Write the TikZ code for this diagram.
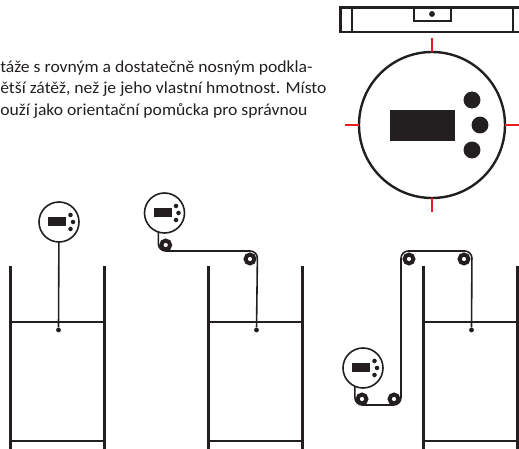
\documentclass[tikz,border=0pt]{standalone}
\usepackage{fontspec}
\setmainfont[FakeStretch=1.05]{Carlito}
\definecolor{ink}{HTML}{231F20}
\definecolor{tick}{HTML}{ED1C24}
\tikzset{
  wall/.style={line width=2.5pt,ink},
  floor/.style={line width=1.7pt,ink},
  bar/.style={line width=1.7pt,ink},
  wire/.style={line width=1.2pt,ink,rounded corners=5.5pt},
  dial/.style={circle,draw=ink,line width=1.2pt,fill=white,minimum size=30pt,inner sep=0pt,outer sep=0pt},
  knob/.style={circle,fill=ink,inner sep=0pt,minimum size=#1},
  screen/.style={fill=ink,inner sep=0pt,minimum width=#1,minimum height=0.48*#1},
  wheel/.style={circle,draw=ink,line width=3pt,fill=white,minimum size=6.6pt,inner sep=0pt},
  redtick/.style={line width=1.8pt,tick},
  txt/.style={anchor=base west,inner sep=0pt,text=ink,font=\fontsize{12.6}{15}\selectfont}
}
\begin{document}
\begin{tikzpicture}[x=0.75pt,y=-0.75pt]
  \useasboundingbox (0,0) rectangle (519,449);
  \clip (0,0) rectangle (519,449);
  % text
  \node [txt] (lineA) at (0,72.5) {táže s rovným a dostatečně nosným podkla-};
  \node [txt] (lineB) at (0,94) {ětší zátěž, než je jeho vlastní hmotnost. Místo};
  \node [txt] (lineC) at (0,115.5) {ouží jako orientační pomůcka pro správnou};
  % level
  \draw [bar] (340.5,7.5) rectangle (530,32);
  \draw [bar] (352,7.5) -- (352,32);
  \draw [bar] (513,7.5) -- (513,32);
  \draw [bar] (414,7.5) -- (414,21) -- (451,21) -- (451,7.5);
  \node [knob=4.4pt] (bubble) at (432,14) {};
  % big dial
  \node [dial,line width=1.8pt,minimum size=109.5pt] (bigdial) at (432,125) {};
  \node [screen=48.75pt,minimum height=23.25pt] (bigscreen) at (422.5,125.5) {};
  \node [knob=12.7pt] (bigknobA) at (472,100) {};
  \node [knob=12.7pt] (bigknobB) at (480,125) {};
  \node [knob=12.7pt] (bigknobC) at (472,150) {};
  \draw [redtick] (432,38) -- (bigdial.north);
  \draw [redtick] (bigdial.south) -- (432,212);
  \draw [redtick] (345,125) -- (bigdial.west);
  \draw [redtick] (bigdial.east) -- (519,125);
  % tanks
  \foreach \nm/\xa/\xb in {A/10.5/104.5,B/208.5/302.5,C/423.5/517.5}{
    \draw [wall] (\xa,266) -- (\xa,449);
    \draw [wall] (\xb,266) -- (\xb,449);
    \draw [floor] (\xa,322) -- (\xb,322);
    \draw [floor] (\xa,441) -- (\xb,441);
    \node [knob=3.6pt] (plumb\nm) at ({(\xa+\xb)/2+1},330) {};
  }
  % small dials
  \foreach \nm/\cx/\cy in {A/59/222,B/164.5/213,C/363/368}{
    \node [dial] (sensor\nm) at (\cx,\cy) {};
    \node [screen=13.5pt] at ([shift={(-2,-0.5)}]sensor\nm.center) {};
    \node [knob=3.4pt] at ([shift={(11.5,-7)}]sensor\nm.center) {};
    \node [knob=3.4pt] at ([shift={(14,0)}]sensor\nm.center) {};
    \node [knob=3.4pt] at ([shift={(11.5,7)}]sensor\nm.center) {};
  }
  % wires
  \draw [wire] (sensorA) -- (plumbA);
  \draw [wire] (sensorB.252) -- (158.3,251) -- (257.5,251) -- (plumbB);
  \draw [wire] (sensorC.246) -- (355,405) -- (401,405) -- (401,251) -- (472,251) -- (plumbC);
  % wheels
  \node [wheel] (wheelA) at (165.7,245) {};
  \node [wheel] (wheelB) at (250,259) {};
  \node [wheel] (wheelC) at (362,399) {};
  \node [wheel] (wheelD) at (394,399) {};
  \node [wheel] (wheelE) at (409,259) {};
  \node [wheel] (wheelF) at (464,259) {};
\end{tikzpicture}
\end{document}
